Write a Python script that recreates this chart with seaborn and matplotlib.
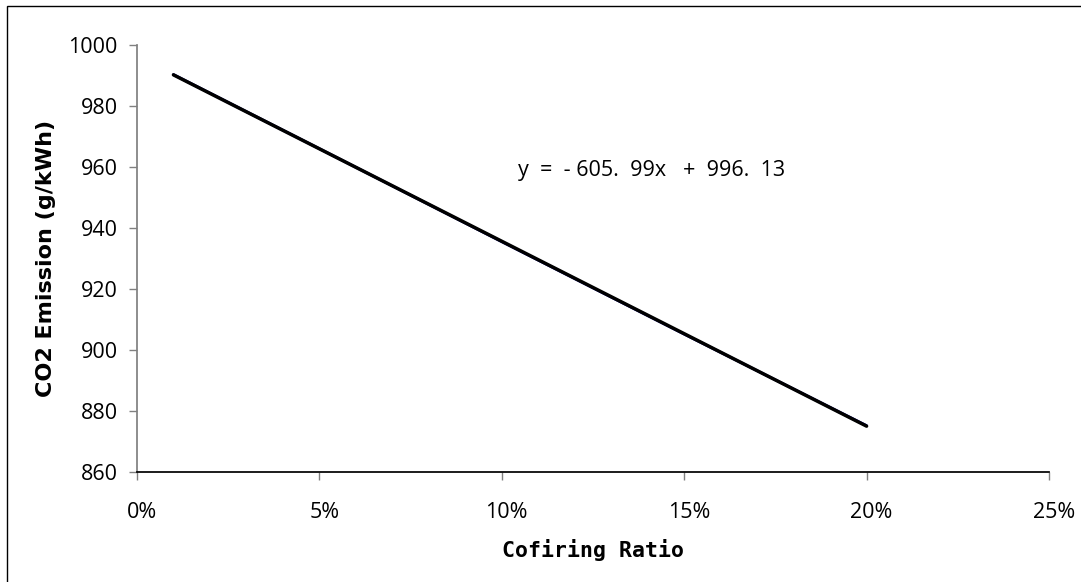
import matplotlib
matplotlib.use("Agg")
from matplotlib import pyplot as plt
from matplotlib.patches import Rectangle
from matplotlib.transforms import ScaledTranslation
import numpy as np
import pandas as pd
import seaborn as sns

# data
cofiring_ratio = [0.01, 0.05, 0.10, 0.15, 0.20]
co2_emission = [990.3, 966.0, 935.5, 905.2, 875.2]
trend_label = "y  =  - 605.  99x   +  996.  13"

df = pd.DataFrame({"ratio": cofiring_ratio, "co2": co2_emission})

sns.set_theme(style="white")
plt.rcParams['font.family'] = ['Open Sans', 'DejaVu Sans']
plt.rcParams['text.color'] = 'black'
plt.rcParams['axes.labelcolor'] = 'black'

fig = plt.figure(figsize=(10.81, 5.82), dpi=100)
ax = fig.add_axes([0.1267, 0.189, 0.8437, 0.7337])

# data line (navy) and linear trendline (black) on top
sns.lineplot(data=df, x="ratio", y="co2", ax=ax, color="#000080", linewidth=2)
slope, intercept = np.polyfit(df["ratio"], df["co2"], 1)
xs = np.array([df["ratio"].min(), df["ratio"].max()])
ax.plot(xs, slope * xs + intercept, color="black", linewidth=2.5)

ax.set_xlim(0, 0.25)
ax.set_ylim(860, 1000)
xt = np.arange(0, 0.26, 0.05)
ax.set_xticks(xt)
ax.set_xticklabels([f"{int(round(v * 100))}%" for v in xt])
ax.set_yticks(np.arange(860, 1001, 20))

ax.text(0.1044, 959, trend_label, fontsize=15.5, va="center", ha="left",
        color="black")

ax.set_xlabel("Cofiring Ratio", fontsize=15.5, fontweight="bold",
              family=["DejaVu Sans Mono", "DejaVu Sans"])
ax.set_ylabel("CO2 Emission (g/kWh)", fontsize=16, fontweight="bold",
              family=["DejaVu Sans"])
ax.xaxis.label.set_va("center")
ax.yaxis.label.set_va("center")
ax.xaxis.set_label_coords(0.5, -0.183)
ax.yaxis.set_label_coords(-0.0998, 0.5)

sns.despine(ax=ax)
ax.spines["left"].set_color("#808080")
ax.spines["bottom"].set_color("#000000")
ax.tick_params(axis="both", direction="out", length=5.5, width=1,
               labelsize=15.5, color="#808080", labelcolor="black",
               left=True, bottom=True)
ax.tick_params(axis="x", pad=16)
ax.tick_params(axis="y", pad=8.5)

# Excel-style labels sit a few pixels right of their ticks
shift = ScaledTranslation(5 / 100, 0, fig.dpi_scale_trans)
for lab in ax.get_xticklabels():
    lab.set_transform(lab.get_transform() + shift)

# outer chart-area border
fig.patches.append(Rectangle((7 / 1081, -0.05), 1.1, 1 - 6 / 582 + 0.05,
                             transform=fig.transFigure, fill=False,
                             edgecolor="black", linewidth=1))

fig.savefig("out.png", dpi=100)
